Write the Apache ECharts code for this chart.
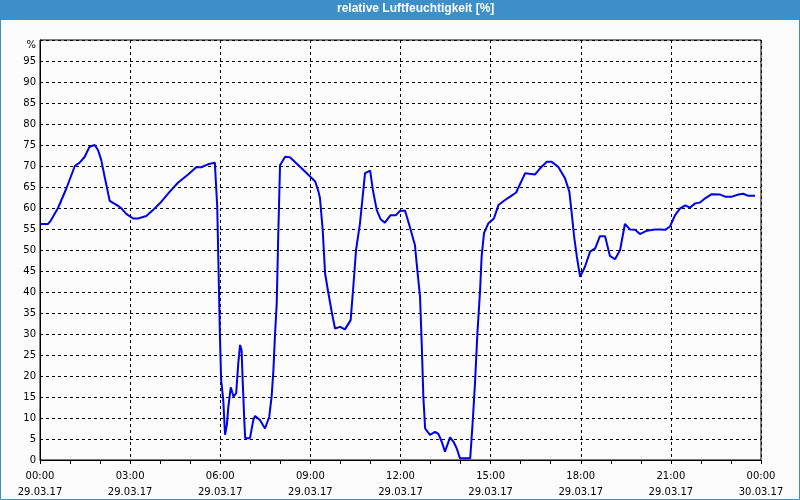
<!DOCTYPE html>
<html>
<head>
<meta charset="utf-8">
<script src="https://cdn.jsdelivr.net/npm/echarts@6/dist/echarts.min.js"></script>
<style>
html,body{margin:0;padding:0;background:#fbfcfb;}
#c{width:800px;height:500px;}
</style>
</head>
<body>
<div id="c"></div>
<script>
// Time of day in hours (0 = 29.03.17 00:00)
var hours = [0,0.27,0.36,0.60,0.88,1.16,1.32,1.49,1.65,1.82,1.93,2.04,2.15,2.32,2.60,2.71,2.87,3.10,3.26,3.54,3.76,4.04,4.32,4.59,4.93,5.20,5.37,5.59,5.82,5.87,
  5.90,5.93,5.96,5.99,6.03,6.10,6.16,6.22,6.27,6.35,6.44,6.53,6.60,6.66,6.71,6.75,6.80,6.83,6.99,7.10,7.16,7.32,7.49,7.63,7.71,7.77,7.82,7.88,7.93,7.99,
  8.16,8.32,8.54,8.82,8.99,9.16,9.27,9.32,9.41,9.49,9.60,9.71,9.82,9.99,10.15,10.34,10.43,10.52,10.65,10.82,10.99,11.08,11.21,11.34,11.48,11.67,11.85,11.98,12.15,
  12.29,12.48,12.56,12.65,12.71,12.76,12.82,12.98,13.15,13.26,13.37,13.48,13.65,13.76,13.87,13.98,14.32,14.40,14.48,14.56,14.65,14.70,14.78,14.92,15.11,15.26,
  15.48,15.65,15.85,16.15,16.48,16.64,16.87,17.03,17.25,17.48,17.62,17.70,17.78,17.87,17.98,18.14,18.31,18.48,18.64,18.81,18.97,19.14,19.31,19.47,19.64,19.81,
  19.97,20.20,20.47,20.64,20.81,20.97,21.14,21.31,21.48,21.64,21.81,21.97,22.14,22.36,22.64,22.81,23.03,23.25,23.41,23.58,23.80];
// Relative humidity in %
var humidity = [56.2,56.2,57,60,64.7,70,70.8,72.2,74.6,75,73.8,71.4,67.5,61.7,60.5,59.9,58.6,57.5,57.5,58.1,59.5,61.5,63.9,66,68,69.7,69.7,70.4,70.8,70.6,
  60.3,50,39.7,29.4,19,14.3,6,8.3,12.7,17.3,15.1,15.9,23,27.4,26.2,18.3,9.5,5.2,5.2,9.5,10.5,9.5,7.5,10.3,15.1,21.4,29.4,37.3,53.2,70.2,
  72.2,72.1,70.6,68.7,67.5,66.3,63.9,62.3,54.8,44.4,39.7,35.3,31.3,31.7,31.1,33.3,41.3,50,56.3,68.3,68.9,64.3,59.5,57.3,56.5,58.3,58.3,59.3,59.4,
  56,51.2,45.2,38.9,27,15.1,7.5,6,6.7,6.2,4.4,2,5.4,4.4,2.8,0.4,0.4,8.7,18.3,30.2,40.5,48.4,54,56.3,57.5,60.7,
  61.9,62.7,63.7,68.3,68,69.4,71,71,69.8,67,63.9,58.7,53.2,48.4,43.6,46,49.6,50.4,53.3,53.3,48.6,47.8,50,56.2,54.9,54.8,
  53.8,54.6,54.9,54.9,54.8,55.6,58.3,59.9,60.6,60.1,61.1,61.3,62.3,63.3,63.2,62.7,62.7,63.2,63.4,62.9,62.9];
// Axis tick labels
var timeLabels = ['00:00','03:00','06:00','09:00','12:00','15:00','18:00','21:00','00:00'];
var dateLabels = ['29.03.17','29.03.17','29.03.17','29.03.17','29.03.17','29.03.17','29.03.17','29.03.17','30.03.17'];
var chartTitle = 'relative Luftfeuchtigkeit [%]';

var data = hours.map(function(h,i){return [h, humidity[i]];});
var chart = echarts.init(document.getElementById('c'), null, {renderer:'canvas'});
var frameColor = '#3c8fc7';
chart.setOption({
  animation:false,
  backgroundColor:'#fbfcfb',
  graphic:[
    {type:'rect', shape:{x:0,y:0,width:800,height:20}, style:{fill:frameColor}, silent:true},
    {type:'rect', shape:{x:0.5,y:0.5,width:799,height:499}, style:{fill:null, stroke:frameColor, lineWidth:1}, silent:true},
    {type:'text', left:337, top:3, style:{text:chartTitle, fill:'#ffffff', font:'bold 12px "Liberation Sans", sans-serif'}, silent:true}
  ],
  grid:{left:40, top:40, right:39, bottom:40, show:true, borderColor:'#000', borderWidth:1, backgroundColor:'transparent'},
  xAxis:{
    type:'value', min:0, max:24, interval:3,
    axisLine:{show:true, lineStyle:{color:'#000', width:1}},
    axisTick:{show:true, length:4, lineStyle:{color:'#000'}},
    minorTick:{show:true, splitNumber:3, length:4, lineStyle:{color:'#000'}},
    splitLine:{show:true, lineStyle:{color:'#000', type:[3,3], width:1}},
    axisLabel:{
      color:'#000', fontFamily:'DejaVu Sans', fontSize:10, lineHeight:16, margin:8,
      formatter:function(v){var i=Math.round(v/3); return timeLabels[i]+'\n'+dateLabels[i];}
    }
  },
  yAxis:{
    type:'value', min:0, max:100, interval:5,
    axisLine:{show:true, lineStyle:{color:'#000', width:1}},
    axisTick:{show:false},
    splitLine:{show:true, lineStyle:{color:'#000', type:[3,3], width:1}},
    axisLabel:{
      color:'#000', fontFamily:'DejaVu Sans', fontSize:10, margin:4,
      formatter:function(v){return v===100 ? '{p|%}' : String(v);},
      rich:{p:{fontFamily:'DejaVu Sans', fontSize:10, color:'#000', padding:[10,0,0,0]}}
    }
  },
  series:[{
    type:'line', data:data, showSymbol:false, symbol:'none',
    lineStyle:{color:'#0000e6', width:2}, itemStyle:{color:'#0000e6'},
    clip:true
  }]
});
</script>
</body>
</html>
